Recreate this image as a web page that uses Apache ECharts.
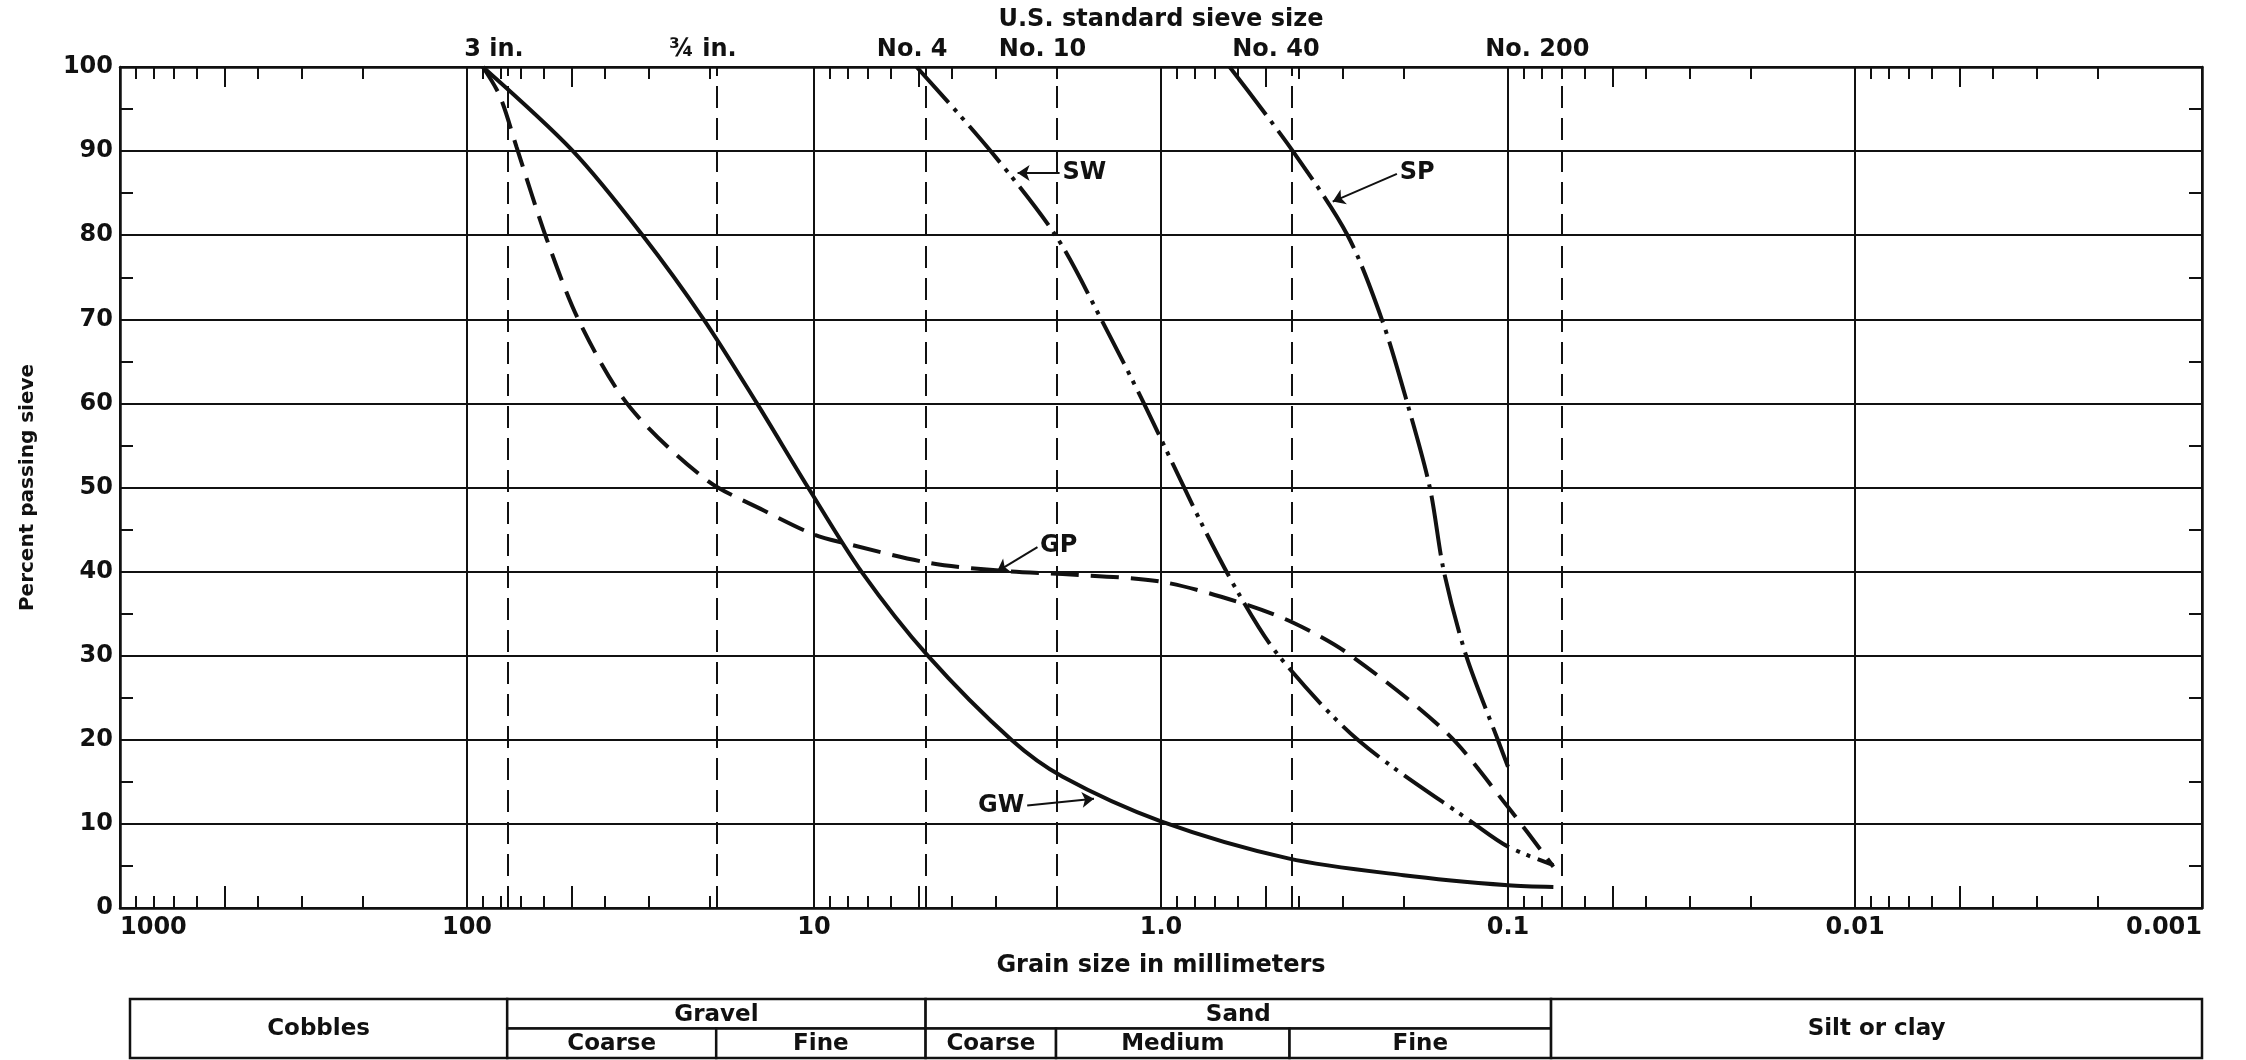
<!DOCTYPE html>
<html>
<head>
<meta charset="utf-8">
<title>Grain size distribution</title>
<script src="https://cdn.jsdelivr.net/npm/echarts@6/dist/echarts.min.js"></script>
<style>
  html, body { margin: 0; padding: 0; background: #fff; }
  #main { width: 2246px; height: 1060px; }
</style>
</head>
<body>
<div id="main"></div>
<script>
const ink = '#111';
const font = "'DejaVu Sans', 'Liberation Sans', sans-serif";

// curves: grain size (mm) and percent passing
const gwSize = [90, 49.5, 31.2, 20.8, 14.6, 10.4, 7.3, 4.7, 2.7, 1.92, 1.0, 0.43, 0.2, 0.1, 0.074];
const gwPass = [100, 90, 80, 70, 60, 50, 40, 30, 20, 15.6, 10.3, 5.9, 3.9, 2.7, 2.5];

const gpSize = [90, 80.5, 72, 59, 47.3, 34, 20.4, 14, 10, 8.2, 4.6, 2.7, 1.92, 1.0, 0.59, 0.42, 0.29, 0.15, 0.1, 0.074];
const gpPass = [100, 96.6, 90.5, 79.6, 69.6, 59.6, 50.9, 47.3, 44.4, 43.4, 41, 40, 39.7, 38.8, 36.3, 34, 30.3, 20.8, 12, 4.9];

const swSize = [5.06, 3.11, 2.0, 1.47, 1.12, 0.77, 0.59, 0.458, 0.271, 0.125, 0.1, 0.074];
const swPass = [100, 90.1, 79.8, 69.6, 60, 46, 37, 30, 20, 10, 7.3, 5.1];

const spSize = [0.634, 0.417, 0.29, 0.231, 0.195, 0.168, 0.153, 0.132, 0.107, 0.1];
const spPass = [100, 90, 80, 70, 60, 50, 40, 30, 20, 16.8];

// sieves
const sieveNames = ['3 in.', '\u00BE in.', 'No. 4', 'No. 10', 'No. 40', 'No. 200'];
const sieveSizes = [76.2, 19.05, 4.75, 2.0, 0.425, 0.075];

// log-paper ticks
const decades = [0.001, 0.01, 0.1, 1, 10, 100];
const shortSteps = [2, 3, 4, 6, 7, 8, 9];
const longSteps = [5];

// classification table underneath
const bandNames = ['Cobbles', 'Gravel', 'Coarse', 'Fine', 'Sand', 'Coarse', 'Medium', 'Fine', 'Silt or clay'];
const bandFrom = [930, 76.2, 76.2, 19.05, 4.75, 4.75, 2.0, 0.425, 0.075];
const bandTo = [76.2, 4.75, 19.05, 4.75, 0.075, 2.0, 0.425, 0.075, 0.001];
const bandRowTop = [0, 0, 1, 1, 0, 1, 1, 1, 0];
const bandRowBottom = [2, 1, 2, 2, 1, 2, 2, 2, 2];

// curve callouts: [label, from size, from %, to size, to %]
const callouts = {
  GW: ['GW', 2.43, 12.2, 1.56, 13],
  GP: ['GP', 2.27, 42.9, 2.97, 40],
  SW: ['SW', 1.96, 87.4, 2.59, 87.4],
  SP: ['SP', 0.209, 87.3, 0.32, 84]
};

const zip = (a, b) => a.map((v, i) => [v, b[i]]);
const ticksFrom = steps => decades.flatMap(d => steps.map(s => +(d * s).toPrecision(3)));

const main = document.getElementById('main');
const chart = echarts.init(main);

const textBase = { color: ink, fontFamily: font, fontWeight: 'bold', fontSize: 24 };

function logAxis(extra) {
  return Object.assign({
    type: 'log', logBase: 10, min: 0.001, max: 1000, inverse: true, gridIndex: 0,
    axisLine: { show: false, onZero: false },
    axisTick: { show: false },
    axisLabel: { show: false },
    splitLine: { show: false }
  }, extra);
}

function tickAxis(position, steps, len, withLine) {
  return logAxis({
    position: position,
    axisLine: { show: !!withLine, onZero: false, lineStyle: { color: ink, width: 2.5 } },
    axisTick: { show: true, inside: true, length: len, customValues: ticksFrom(steps), lineStyle: { color: ink, width: 2 } }
  });
}

function callout(key, curveness) {
  const c = callouts[key];
  const ls = { color: ink, width: 2, type: 'solid', curveness: curveness || 0 };
  return {
    silent: true,
    symbol: ['none', 'arrow'],
    symbolSize: 12,
    lineStyle: ls,
    label: Object.assign({ show: true, position: 'start', formatter: c[0], distance: 3 }, textBase),
    data: [[{ coord: [c[1], c[2]], lineStyle: ls }, { coord: [c[3], c[4]] }]]
  };
}

function curve(name, size, pass, dash, curveness) {
  return {
    name: name, type: 'line', xAxisIndex: 0, yAxisIndex: 0,
    data: zip(size, pass), showSymbol: false, symbol: 'none',
    smooth: 0.3, z: 5,
    lineStyle: { color: ink, width: 4, type: dash },
    markLine: callout(name, curveness)
  };
}

const option = {
  animation: false,
  backgroundColor: '#fff',
  textStyle: { fontFamily: font, color: ink },
  grid: [
    { left: 120, right: 44, top: 67, bottom: 152, containLabel: false, outerBoundsMode: 'none' },
    { left: 130, right: 44, top: 999, height: 59, containLabel: false, outerBoundsMode: 'none' }
  ],
  xAxis: [
    logAxis({
      position: 'bottom', splitNumber: 6,
      name: 'Grain size in millimeters', nameLocation: 'middle', nameGap: 46, nameMoveOverlap: false,
      nameTextStyle: textBase,
      axisLine: { show: true, onZero: false, lineStyle: { color: ink, width: 2.5 } },
      axisLabel: Object.assign({
        show: true, margin: 8, alignMinLabel: 'right', alignMaxLabel: 'left',
        formatter: v => (Math.abs(v - 1) < 1e-9 ? '1.0' : String(+(+v).toPrecision(3)))
      }, textBase),
      splitLine: { show: true, lineStyle: { color: ink, width: 2 } }
    }),
    tickAxis('bottom', shortSteps, 12),
    tickAxis('bottom', longSteps, 22),
    tickAxis('top', shortSteps, 12, true),
    tickAxis('top', longSteps, 20),
    logAxis({
      position: 'top',
      name: 'U.S. standard sieve size', nameLocation: 'middle', nameGap: 35, nameMoveOverlap: false,
      nameTextStyle: textBase,
      axisLabel: Object.assign({
        show: true, margin: 5, customValues: sieveSizes, padding: [0, 28, 0, 0],
        formatter: v => {
          const i = sieveSizes.findIndex(s => Math.abs(Math.log(s / v)) < 0.01);
          return i < 0 ? '' : sieveNames[i];
        }
      }, textBase)
    }),
    logAxis({ gridIndex: 1, show: false, min: 0.001, max: 930 })
  ],
  yAxis: [
    {
      type: 'value', gridIndex: 0, min: 0, max: 100, interval: 10, position: 'left',
      name: 'Percent passing sieve', nameLocation: 'middle', nameGap: 82, nameRotate: 90, nameMoveOverlap: false,
      nameTextStyle: Object.assign({}, textBase, { fontSize: 20 }),
      axisLine: { show: true, onZero: false, lineStyle: { color: ink, width: 2.5 } },
      axisTick: { show: true, inside: true, length: 1, lineStyle: { color: ink } },
      minorTick: { show: true, splitNumber: 2, length: 13, lineStyle: { color: ink, width: 2 } },
      axisLabel: Object.assign({ margin: 7 }, textBase),
      splitLine: { show: true, lineStyle: { color: ink, width: 2 } }
    },
    {
      type: 'value', gridIndex: 0, min: 0, max: 100, interval: 10, position: 'right',
      axisLine: { show: true, onZero: false, lineStyle: { color: ink, width: 2.5 } },
      axisTick: { show: true, inside: true, length: 1, lineStyle: { color: ink } },
      minorTick: { show: true, splitNumber: 2, length: 13, lineStyle: { color: ink, width: 2 } },
      axisLabel: { show: false },
      splitLine: { show: false }
    },
    { type: 'value', gridIndex: 1, min: 0, max: 2, inverse: true, show: false }
  ],
  series: [
    curve('GW', gwSize, gwPass, 'solid'),
    curve('GP', gpSize, gpPass, [28, 12]),
    curve('SW', swSize, swPass, [48, 8, 4, 7, 4, 8]),
    curve('SP', spSize, spPass, [60, 8, 4, 8], -0.3),
    {
      name: 'sieves', type: 'line', xAxisIndex: 0, yAxisIndex: 0, data: [],
      markLine: {
        silent: true, symbol: 'none', label: { show: false },
        lineStyle: { color: ink, width: 2, type: [22, 10] },
        data: sieveSizes.map(s => ({ xAxis: s }))
      }
    },
    {
      name: 'table', type: 'custom', xAxisIndex: 6, yAxisIndex: 2, silent: true,
      data: bandNames.map((n, i) => [bandFrom[i], bandTo[i], bandRowTop[i], bandRowBottom[i]]),
      encode: { x: [0, 1], y: [2, 3] },
      renderItem: (params, api) => {
        const p0 = api.coord([api.value(0), api.value(2)]);
        const p1 = api.coord([api.value(1), api.value(3)]);
        return {
          type: 'group',
          children: [
            { type: 'rect', shape: { x: p0[0], y: p0[1], width: p1[0] - p0[0], height: p1[1] - p0[1] },
              style: { fill: '#fff', stroke: ink, lineWidth: 2.5 } },
            { type: 'text', style: { text: bandNames[params.dataIndex], x: (p0[0] + p1[0]) / 2, y: (p0[1] + p1[1]) / 2 + 1,
              align: 'center', verticalAlign: 'middle', fontSize: 23, fontWeight: 'bold', fontFamily: font, fill: ink } }
          ]
        };
      }
    }
  ]
};

chart.setOption(option);
</script>
</body>
</html>
